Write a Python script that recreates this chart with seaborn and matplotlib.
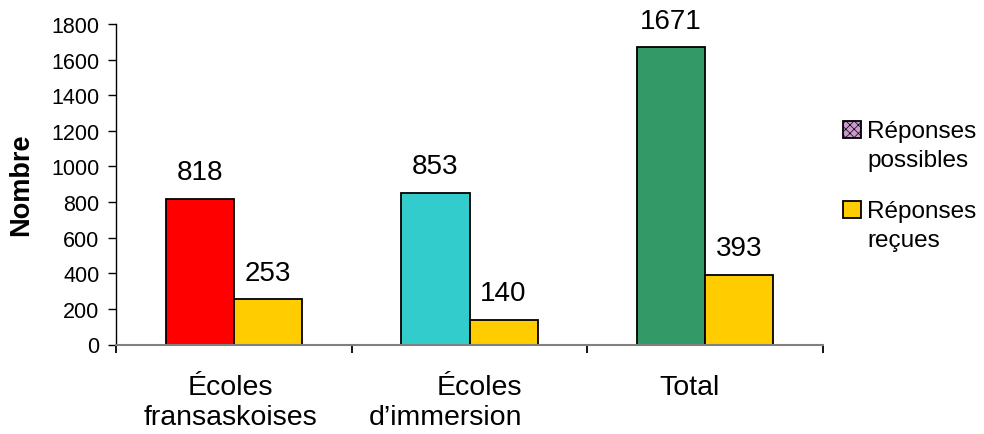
import matplotlib
matplotlib.use("Agg")
import matplotlib.pyplot as plt
import seaborn as sns
import pandas as pd
from matplotlib.patches import Patch, Rectangle
from matplotlib.legend_handler import HandlerPatch
from matplotlib.ticker import FixedLocator
from matplotlib.transforms import ScaledTranslation

categories = ["Écoles\nfransaskoises", "Écoles\nd’immersion", "Total"]
series = ["Réponses\npossibles", "Réponses\nreçues"]
possibles = [818, 853, 1671]
recues = [253, 140, 393]
yticks = [0, 200, 400, 600, 800, 1000, 1200, 1400, 1600, 1800]

possible_colors = ["#FF0000", "#33CCCC", "#339966"]
recues_color = "#FFCC00"
legend_possible_color = "#CC99CC"

df = pd.DataFrame({
    "cat": categories * 2,
    "serie": [series[0]] * 3 + [series[1]] * 3,
    "val": possibles + recues,
})

sns.set_style("white")
plt.rcParams["font.family"] = ["Liberation Sans", "DejaVu Sans"]
for k in ["text.color", "axes.labelcolor", "xtick.color", "ytick.color"]:
    plt.rcParams[k] = "black"
plt.rcParams["hatch.linewidth"] = 0.5
plt.rcParams["hatch.color"] = "#A070A0"

fig = plt.figure(figsize=(9.84, 4.35), dpi=100)
ax = fig.add_axes([116/984, 1 - 345.5/435, (823-116)/984, (345.5-25)/435])

sns.barplot(data=df, x="cat", y="val", hue="serie", order=categories,
            hue_order=series, width=0.578, ax=ax, legend=False,
            edgecolor="black", linewidth=1.3, saturation=1)

patches = [p for p in ax.patches]
for i, p in enumerate(patches[:3]):
    p.set_facecolor(possible_colors[i])
for p in patches[3:6]:
    p.set_facecolor(recues_color)

for p, v in zip(patches[:6], possibles + recues):
    x = p.get_x() + p.get_width() / 2
    ax.annotate(str(v), (x, v), xytext=(0, 14), textcoords="offset points",
                ha="center", va="baseline", fontsize=20)

ax.set_ylim(0, 1800)
ax.set_xlim(-0.5, 2.5)
ax.set_yticks(yticks)
ax.set_yticklabels([str(t) for t in yticks], fontsize=15.5)
ax.set_xticks([0, 1, 2])
ax.set_xticklabels(categories, fontsize=20.5, linespacing=1.22)
ax.xaxis.set_minor_locator(FixedLocator([-0.5, 0.5, 1.5, 2.5]))
ax.tick_params(axis="x", which="major", length=0, pad=21)
ax.tick_params(axis="x", which="minor", length=6, width=1.3, color="black",
               direction="out", bottom=True)
ax.tick_params(axis="y", length=6, width=1, color="black", direction="out",
               left=True, pad=6)
ax.set_xlabel("")
ax.set_ylabel("Nombre", fontsize=19.5, fontweight="bold", labelpad=12)

# small horizontal shifts of the category labels (pixels), as in the original
label_shift_px = [-3, -24, -16]
label_align = ["center", "right", "center"]
for lab, dx, al in zip(ax.get_xticklabels(), label_shift_px, label_align):
    lab.set_multialignment(al)
    lab.set_transform(lab.get_transform() + ScaledTranslation(dx / 100, 0, fig.dpi_scale_trans))

for s in ["top", "right"]:
    ax.spines[s].set_visible(False)
ax.spines["left"].set_color("black")
ax.spines["left"].set_linewidth(1)
ax.spines["bottom"].set_color("#808080")
ax.spines["bottom"].set_linewidth(1.5)


def top_patch(legend, orig_handle, xdescent, ydescent, width, height, fontsize):
    return Rectangle((-xdescent, -ydescent + 11.5), width, height)


handles = [
    Patch(facecolor=legend_possible_color, edgecolor="black", hatch="xxxx", linewidth=1.3),
    Patch(facecolor=recues_color, edgecolor="black", linewidth=1.3),
]
leg = fig.legend(handles, series, loc="upper left",
                 bbox_to_anchor=(843/984, 1 - 121/435),
                 frameon=False, fontsize=17.5, handlelength=0.74, handleheight=0.74,
                 handletextpad=0.25, labelspacing=1.2, borderaxespad=0, borderpad=0,
                 handler_map={Patch: HandlerPatch(patch_func=top_patch)})
for t in leg.get_texts():
    t.set_linespacing(1.4)

fig.savefig("out.png", dpi=100)
